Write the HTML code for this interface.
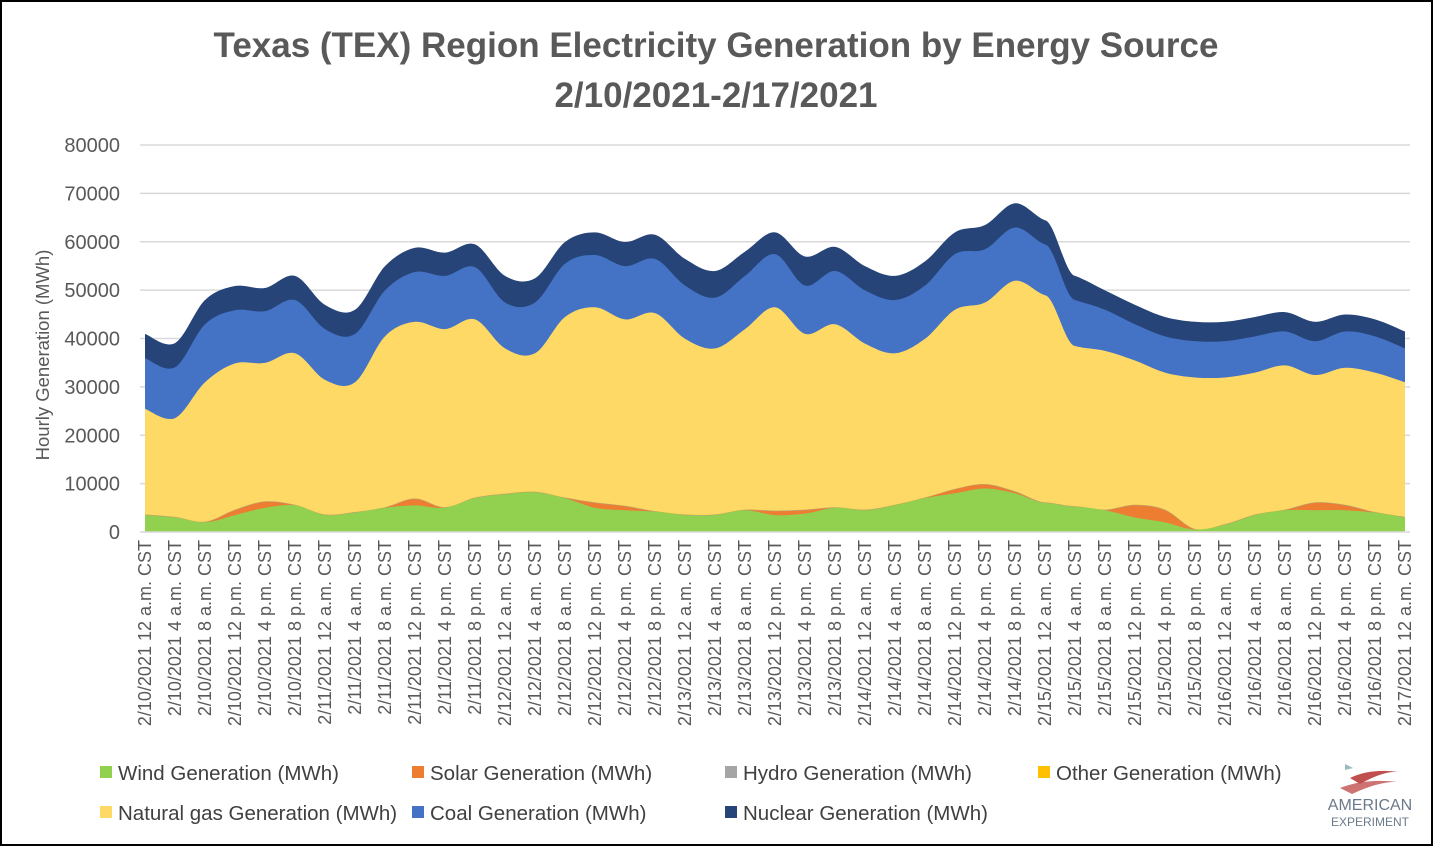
<!DOCTYPE html>
<html><head><meta charset="utf-8"><style>
html,body{margin:0;padding:0;background:#fff;}
svg{display:block;font-family:"Liberation Sans",Arial,sans-serif;}
</style></head><body>
<svg id="chart" width="1433" height="846" viewBox="0 0 1433 846">
<rect x="1" y="1" width="1431" height="844" fill="#fff" stroke="#000" stroke-width="2"/>
<text x="716" y="57" text-anchor="middle" font-size="35" font-weight="bold" fill="#595959">Texas (TEX) Region Electricity Generation by Energy Source</text>
<text x="716" y="107" text-anchor="middle" font-size="35" font-weight="bold" fill="#595959">2/10/2021-2/17/2021</text>
<text transform="translate(49,355) rotate(-90)" text-anchor="middle" font-size="18.5" fill="#595959">Hourly Generation (MWh)</text>
<g id="grid"></g>
<g id="areas"></g>
<g id="yticks"></g>
<g id="xticks"></g>
<g id="legend"></g>
<g>
<path d="M1350 778 Q1370 768 1400 772 Q1385 770 1360 784Z" fill="#c0504d"/>
<path d="M1340 788 Q1365 778 1398 782 Q1380 781 1352 794Z" fill="#c0504d" opacity="0.8"/>
<path d="M1345 764 l8 4 -8 2z" fill="#9bb"/>
<text x="1370" y="810" text-anchor="middle" font-size="16" fill="#6b7a8a">AMERICAN</text>
<text x="1370" y="826" text-anchor="middle" font-size="12" fill="#6b7a8a">EXPERIMENT</text>
</g>
</svg>
<script>
const categories = ["2/10/2021 12 a.m. CST","2/10/2021 4 a.m. CST","2/10/2021 8 a.m. CST","2/10/2021 12 p.m. CST","2/10/2021 4 p.m. CST","2/10/2021 8 p.m. CST","2/11/2021 12 a.m. CST","2/11/2021 4 a.m. CST","2/11/2021 8 a.m. CST","2/11/2021 12 p.m. CST","2/11/2021 4 p.m. CST","2/11/2021 8 p.m. CST","2/12/2021 12 a.m. CST","2/12/2021 4 a.m. CST","2/12/2021 8 a.m. CST","2/12/2021 12 p.m. CST","2/12/2021 4 p.m. CST","2/12/2021 8 p.m. CST","2/13/2021 12 a.m. CST","2/13/2021 4 a.m. CST","2/13/2021 8 a.m. CST","2/13/2021 12 p.m. CST","2/13/2021 4 p.m. CST","2/13/2021 8 p.m. CST","2/14/2021 12 a.m. CST","2/14/2021 4 a.m. CST","2/14/2021 8 a.m. CST","2/14/2021 12 p.m. CST","2/14/2021 4 p.m. CST","2/14/2021 8 p.m. CST","2/15/2021 12 a.m. CST","2/15/2021 4 a.m. CST","2/15/2021 8 a.m. CST","2/15/2021 12 p.m. CST","2/15/2021 4 p.m. CST","2/15/2021 8 p.m. CST","2/16/2021 12 a.m. CST","2/16/2021 4 a.m. CST","2/16/2021 8 a.m. CST","2/16/2021 12 p.m. CST","2/16/2021 4 p.m. CST","2/16/2021 8 p.m. CST","2/17/2021 12 a.m. CST"];
const wind = [3500,3000,2000,3500,5000,5500,3500,4000,5000,5500,5000,7000,7800,8200,7000,5000,4500,4200,3500,3500,4500,3500,3800,5000,4500,5500,7000,8000,9000,8000,6000,5200,4500,3000,2000,500,1500,3500,4500,4500,4500,4000,3000];
const solar = [0,0,0,1000,1200,0,0,0,0,1300,0,0,0,0,0,1000,800,0,0,0,0,800,700,0,0,0,0,800,800,300,0,0,0,2500,2500,0,0,0,0,1500,1000,0,0];
const hydro = [100,100,100,100,100,100,100,100,100,100,100,100,100,100,100,100,100,100,100,100,100,100,100,100,100,100,100,100,100,100,100,100,100,100,100,100,100,100,100,100,100,100,100];
const other = [50,50,50,50,50,50,50,50,50,50,50,50,50,50,50,50,50,50,50,50,50,50,50,50,50,50,50,50,50,50,50,50,50,50,50,50,50,50,50,50,50,50,50];
const gas = [21800,20400,28800,30200,28600,31300,27800,26800,35300,36500,36800,36800,30000,28600,37300,40300,38500,40900,36300,34300,37300,42000,36300,37800,34300,31300,32800,37000,37500,43500,42800,33100,32800,29800,28300,31300,30300,29300,29800,26300,28300,28800,27800];
const coal = [10500,10500,12000,11000,10700,11000,10500,10000,9500,10300,11000,10800,9500,10500,11000,10800,11000,11200,11000,10500,11000,11000,10000,11000,11000,11000,11000,11500,11000,11000,10500,9500,8500,7500,7500,7500,7500,7500,7000,7000,7500,7500,7000];
const nuclear = [5000,5000,5000,5000,4800,5000,5000,5000,5000,5000,4800,4700,5500,5000,4500,4700,5000,5000,5500,5500,5000,4500,6000,5000,5000,5000,5000,4500,5000,5000,5000,5000,4000,4000,4000,4000,4000,4000,4000,4000,3500,3500,3500];
const yTicks = [0,10000,20000,30000,40000,50000,60000,70000,80000];
const seriesNames = ["Wind Generation (MWh)","Solar Generation (MWh)","Hydro Generation (MWh)","Other Generation (MWh)","Natural gas Generation (MWh)","Coal Generation (MWh)","Nuclear Generation (MWh)"];
const seriesColors = ["#92d050","#ed7d31","#a5a5a5","#ffc000","#ffd966","#4472c4","#264478"];

const NS="http://www.w3.org/2000/svg";
const X0=145, X1=1405, Y0=532, Y1=145, YMAX=80000;
function xs(i){return X0+(X1-X0)*i/(categories.length-1);}
function ys(v){return Y0-(Y0-Y1)*v/YMAX;}
function mk(tag,attrs,parent){const e=document.createElementNS(NS,tag);for(const k in attrs)e.setAttribute(k,attrs[k]);parent.appendChild(e);return e;}

const grid=document.getElementById('grid'), yt=document.getElementById('yticks');
yTicks.forEach(v=>{
  if(v>0){const l=mk('line',{x1:140,x2:1410,y1:ys(v),y2:ys(v),stroke:'#d9d9d9','stroke-width':1.5},grid);
  
  }
  const t=mk('text',{x:120,y:ys(v)+7,'text-anchor':'end','font-size':20,fill:'#595959'},yt);
  t.textContent=v;
  
  
});

const series=[wind,solar,hydro,other,gas,coal,nuclear];
const n=categories.length;
let cum=[];let prev=new Array(n).fill(0);
series.forEach(s=>{const c=prev.map((p,i)=>p+s[i]);cum.push(c);prev=c;});
function curve(pts){
  let d='';
  for(let i=0;i<pts.length-1;i++){
    const p0=pts[Math.max(0,i-1)],p1=pts[i],p2=pts[i+1],p3=pts[Math.min(pts.length-1,i+2)];
    const f=(i===30)?0.02:1/6;
    const g0=(i===29)?0.05:1/6, g1=(i===31)?0.05:1/6;
    const c1=[p1[0]+(p2[0]-p0[0])/6,p1[1]+(p2[1]-p0[1])*(i===30?0.02:(i===31?0.05:1/6))];
    const c2=[p2[0]-(p3[0]-p1[0])/6,p2[1]-(p3[1]-p1[1])*(i===30?0.02:(i===29?0.05:1/6))];
    d+=` C${c1[0]},${c1[1]} ${c2[0]},${c2[1]} ${p2[0]},${p2[1]}`;
  }
  return d;
}
const areas=document.getElementById('areas');
const keys=['wind','solar','hydro','other','natural-gas','coal','nuclear'];
for(let k=series.length-1;k>=0;k--){
  const top=cum[k].map((v,i)=>[xs(i),ys(v)]);
  const d='M'+top[0][0]+','+top[0][1]+curve(top)+` L${xs(n-1)},${Y0} L${xs(0)},${Y0} Z`;
  const p=mk('path',{d:d,fill:seriesColors[k]},areas);
  
  
}
mk('line',{x1:140,x2:1410,y1:Y0,y2:Y0,stroke:'#d9d9d9','stroke-width':1.5},areas);

const xt=document.getElementById('xticks');
categories.forEach((c,i)=>{
  const t=mk('text',{transform:`translate(${xs(i)+6},540) rotate(-90)`,'text-anchor':'end','font-size':18,fill:'#595959'},xt);
  t.textContent=c;
  
  
});

const lg=document.getElementById('legend');
const lpos=[[100,773],[412,773],[725,773],[1038,773],[100,813],[412,813],[725,813]];
seriesNames.forEach((s,k)=>{
  const g=mk('g',{},lg);
  
  
  mk('rect',{x:lpos[k][0],y:lpos[k][1]-7,width:12,height:12,fill:seriesColors[k]},g);
  const t=mk('text',{x:lpos[k][0]+18,y:lpos[k][1]+7,'font-size':20.5,fill:'#404040'},g);
  t.textContent=s;
});
</script>
</body></html>
